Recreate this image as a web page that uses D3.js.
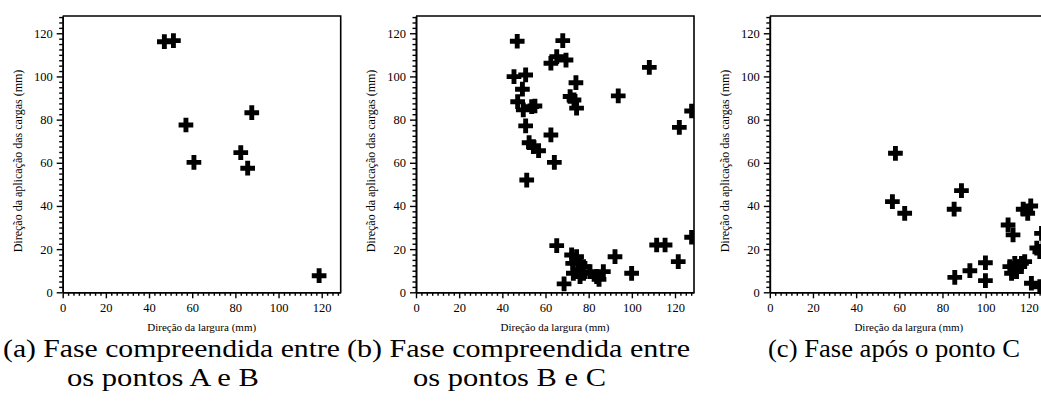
<!DOCTYPE html>
<html>
<head>
<meta charset="utf-8">
<script src="https://cdn.jsdelivr.net/npm/d3@7"></script>
<style>
  html, body { margin: 0; padding: 0; background: #fff; }
  svg { display: block; }
</style>
</head>
<body>
<svg id="chart" width="1041" height="411"></svg>
<script>
// Crack positions (mm) for each loading phase
const phaseA_x = [47.1, 51.3, 57.1, 60.8, 82.5, 85.7, 87.6, 118.8];
const phaseA_y = [116.1, 116.6, 77.5, 60.2, 64.7, 57.5, 83.2, 7.7];

const phaseB_x = [46.9, 68.0, 62.5, 65.2, 69.5, 108.1, 45.4, 50.8, 49.3, 47.1, 49.7, 53.6, 55.1,
                  50.8, 52.4, 54.4, 56.8, 62.5, 64.1, 51.3, 74.1, 71.4, 73.2, 74.4, 93.7, 122.0,
                  127.7, 65.2, 68.6, 72.1, 74.4, 72.6, 76.0, 77.6, 75.2, 77.6, 76.0, 80.6, 83.7,
                  86.8, 84.8, 72.9, 92.2, 99.9, 111.5, 115.4, 121.5, 127.7];
const phaseB_y = [116.3, 116.6, 106.1, 109.2, 107.6, 104.2, 99.9, 100.7, 94.1, 88.3, 84.5, 86.0, 86.3,
                  77.1, 69.3, 67.5, 65.6, 72.9, 60.2, 52.0, 97.1, 90.7, 89.1, 85.3, 91.0, 76.4,
                  84.0, 21.6, 3.9, 17.3, 16.5, 13.4, 13.4, 11.9, 10.3, 8.8, 7.3, 9.6, 7.3,
                  9.6, 6.0, 8.8, 16.5, 8.8, 21.9, 21.9, 14.2, 25.5];

const phaseC_x = [58.2, 56.8, 62.5, 85.4, 88.8, 85.7, 92.7, 99.9, 99.9, 110.4, 112.7, 112.0, 113.5,
                  115.1, 116.6, 118.1, 114.3, 111.2, 117.4, 120.9, 119.5, 121.2, 125.9, 125.1,
                  126.6, 125.1, 123.7];
const phaseC_y = [64.4, 42.0, 36.6, 38.5, 47.1, 6.9, 10.0, 13.7, 5.4, 31.2, 26.6, 8.8, 13.4,
                  11.9, 13.4, 14.2, 9.6, 11.9, 38.5, 40.0, 36.6, 4.2, 27.3, 18.8,
                  21.2, 2.6, 20.5];

const xTicks = [0, 20, 40, 60, 80, 100, 120];
const yTicks = [0, 20, 40, 60, 80, 100, 120];
const xTitle = "Direção da largura (mm)";
const yTitle = "Direção da aplicação das cargas (mm)";
const captions = [
  ["(a) Fase compreendida entre", "os pontos A e B"],
  ["(b) Fase compreendida entre", "os pontos B e C"],
  ["(c) Fase após o ponto C"]
];

const panels = [
  { left: 62.7, xs: phaseA_x, ys: phaseA_y },
  { left: 416, xs: phaseB_x, ys: phaseB_y },
  { left: 769.8, xs: phaseC_x, ys: phaseC_y }
];

const plotW = 278, plotTop = 16, plotBottom = 292.3;
const xMax = 128.8, yMax = 128;
const minorStep = 2.5;
const serif = "'Liberation Serif'";

const svg = d3.select("#chart");

// caption placement: [x start line1, width line1, x start line2, width line2]
const capLayout = [
  [3, 337, 67, 192],
  [347, 343, 413, 193],
  [768, 252]
];

panels.forEach((p, i) => {
  const x = d3.scaleLinear().domain([0, xMax]).range([p.left, p.left + plotW]);
  const y = d3.scaleLinear().domain([0, yMax]).range([plotBottom, plotTop]);
  const g = svg.append("g");

  // clip for markers at the plot border
  const clipId = "clip" + i;
  svg.append("clipPath").attr("id", clipId)
    .append("rect").attr("x", p.left - 10).attr("y", plotTop - 10)
    .attr("width", plotW + 10).attr("height", plotBottom - plotTop + 20);

  // frame: top and right
  g.append("path")
    .attr("d", `M${x(0)},${y(yMax)}H${x(xMax)}V${y(0)}`)
    .attr("fill", "none").attr("stroke", "#000").attr("stroke-width", 1.6);

  // minor ticks every 2.5 mm
  const minors = d3.range(0, xMax + 0.001, minorStep).filter(v => v % 20 !== 0);
  const yMinors = d3.range(0, yMax + 0.001, minorStep).filter(v => v % 20 !== 0);

  const xAxis = d3.axisBottom(x).tickValues(xTicks).tickSize(6).tickSizeOuter(0).tickPadding(5);
  const xMinor = d3.axisBottom(x).tickValues(minors).tickSize(3.5).tickSizeOuter(0).tickFormat("");
  const yAxis = d3.axisLeft(y).tickValues(yTicks).tickSize(6).tickSizeOuter(0).tickPadding(4);
  const yMinor = d3.axisLeft(y).tickValues(yMinors).tickSize(3.5).tickSizeOuter(0).tickFormat("");

  const styleAxis = a => {
    a.attr("font-family", serif).attr("font-size", 12.5);
    a.select(".domain").attr("stroke-width", 1.6);
    a.selectAll(".tick line").attr("stroke-width", 1.4);
  };
  [xAxis, xMinor].forEach(ax => {
    g.append("g").attr("transform", `translate(0,${plotBottom})`).call(ax).call(styleAxis);
  });
  [yAxis, yMinor].forEach(ax => {
    g.append("g").attr("transform", `translate(${p.left},0)`).call(ax).call(styleAxis);
  });

  // axis titles
  g.append("text")
    .attr("x", x(0) + plotW / 2).attr("y", 331)
    .attr("text-anchor", "middle")
    .style("font-family", serif).style("font-size", "11px")
    .text(xTitle);
  g.append("text")
    .attr("transform", `translate(${p.left - 41},161) rotate(-90)`)
    .attr("text-anchor", "middle")
    .style("font-family", serif).style("font-size", "12px")
    .text(yTitle);

  // markers
  const sym = d3.symbol().type(d3.symbolCross).size(120);
  g.append("g").attr("clip-path", `url(#${clipId})`)
    .selectAll("path").data(p.xs.map((v, k) => [v, p.ys[k]]))
    .join("path")
    .attr("transform", d => `translate(${x(d[0])},${y(d[1])})`)
    .attr("d", sym)
    .attr("fill", "#000");

  // sub-caption
  const cl = capLayout[i];
  captions[i].forEach((line, k) => {
    svg.append("text")
      .attr("x", cl[k * 2]).attr("y", 357 + k * 29)
      .style("font-family", serif).style("font-size", "25px")
      .attr("textLength", cl[k * 2 + 1]).attr("lengthAdjust", "spacingAndGlyphs")
      .text(line);
  });
});
</script>
</body>
</html>
